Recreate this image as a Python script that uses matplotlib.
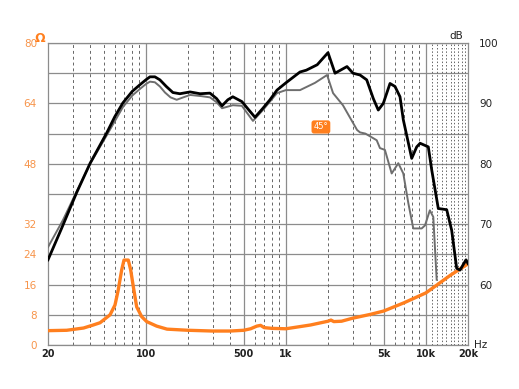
import matplotlib
matplotlib.use("Agg")
import matplotlib.pyplot as plt
import numpy as np

# On-axis SPL (dB)
spl_f = [20, 25, 32, 40, 52.5, 60, 68.6, 80, 90.8, 100, 107, 116, 126, 140, 156, 175, 207, 244, 287,
         320, 350, 385, 418, 485, 540, 602, 686, 770, 864, 1000, 1262, 1400, 1675, 2000, 2245, 2500,
         2733, 3017, 3386, 3780, 4214, 4572, 4966, 5546, 6020, 6536, 6900, 7924, 8604, 9100, 10410,
         11010, 12270, 14090, 15290, 16600, 17540, 19350, 20000]
spl_db = [64.1, 69.3, 75.2, 80.1, 85.1, 87.8, 90.1, 92.0, 93.1, 93.9, 94.4, 94.4, 93.9, 92.8, 91.8, 91.6,
          91.9, 91.6, 91.7, 90.8, 89.6, 90.6, 91.1, 90.3, 89.0, 87.7, 89.2, 90.6, 92.2, 93.4, 95.2, 95.5,
          96.4, 98.4, 95.0, 95.6, 96.1, 95.0, 94.7, 93.9, 90.8, 88.9, 90.0, 93.3, 92.8, 91.1, 87.3, 80.9,
          82.8, 83.4, 82.8, 79.0, 72.6, 72.4, 69.0, 62.7, 62.4, 64.1, 63.5]

# 45 degree SPL (dB)
off_f = [20, 25.6, 32, 40, 52.5, 68.6, 80, 90.8, 100, 107, 116, 126, 137, 150, 166, 185, 207, 250, 287,
         320, 350, 418, 485, 582, 686, 864, 1000, 1262, 1614, 1970, 2174, 2556, 3226, 3386, 3700, 4456,
         4700, 5100, 5700, 6356, 6900, 7494, 8130, 9340, 9860, 10680, 11300, 11950]
off_db = [66.2, 70.7, 75.4, 80.0, 84.7, 89.4, 91.3, 92.4, 93.2, 93.6, 93.5, 92.8, 91.8, 91.0, 90.6, 91.0,
          91.4, 91.2, 91.0, 90.2, 89.2, 89.7, 89.6, 87.1, 88.9, 91.7, 92.2, 92.2, 93.4, 94.7, 91.7, 89.7,
          85.6, 85.2, 85.0, 83.9, 82.6, 82.3, 78.4, 80.1, 78.4, 73.5, 69.3, 69.3, 69.8, 72.3, 71.2, 60.8]

# Impedance (ohm)
imp_f = [20, 27.2, 35.9, 42.1, 47.1, 55.5, 60.2, 63.5, 67.2, 69.8, 74.9, 77.9, 81.4, 86, 93.4, 101.4,
         119.5, 141.7, 200, 300, 400, 500, 560, 620, 660, 700, 800, 1000, 1500, 2000, 2100, 2200, 2500,
         3000, 4000, 5000, 7000, 10000, 12000, 15000, 20000]
imp_ohm = [3.8, 3.9, 4.5, 5.3, 5.9, 8.0, 10.6, 14.6, 19.9, 22.5, 22.5, 19.9, 15.4, 10.1, 7.5, 6.2,
           5.0, 4.2, 3.9, 3.7, 3.7, 3.9, 4.3, 5.0, 5.2, 4.6, 4.4, 4.3, 5.3, 6.3, 6.6, 6.2, 6.3,
           7.1, 8.1, 9.0, 11.2, 13.8, 15.9, 18.5, 21.5]

x_labels = ["20", "100", "500", "1k", "5k", "10k", "20k"]
x_label_pos = [20, 100, 500, 1000, 5000, 10000, 20000]
left_ticks = [0, 8, 16, 24, 32, 48, 64, 80]
right_ticks = [60, 70, 80, 90, 100]

ORANGE = "#ff7f1e"
ORANGE_TXT = "#f7944a"

fig = plt.figure(figsize=(5.19, 3.89), dpi=100)
W, H = 519, 389
ax = fig.add_axes([48 / W, (H - 345) / H, 420 / W, 302 / H])
ax.set_xscale("log")
ax.set_xlim(20, 20000)
ax.set_ylim(0, 80)

# grid: horizontal
for v in np.arange(0, 81, 8):
    ax.axhline(v, color="#8c8c8c", lw=0.9, zorder=1)
# grid: vertical
solid = [100, 500, 1000, 5000, 10000]
dashed = [30, 40, 50, 60, 70, 80, 90, 200, 300, 400, 600, 700, 800, 900,
          2000, 3000, 4000, 6000, 7000, 8000, 9000]
dotted = [11000, 12000, 13000, 14000, 15000, 16000, 17000, 18000, 19000]
for v in solid:
    ax.axvline(v, color="#8c8c8c", lw=0.9, zorder=1)
for v in dashed:
    ax.axvline(v, color="#666666", lw=0.7, ls=(0, (3, 3)), zorder=1)
for v in dotted:
    ax.axvline(v, color="#666666", lw=0.7, ls=(0, (1.5, 2)), zorder=1)

for s in ax.spines.values():
    s.set_color("#8c8c8c")
    s.set_linewidth(0.9)

ax.tick_params(length=0)
ax.set_xticks(x_label_pos)
ax.set_xticklabels(x_labels, fontsize=7, fontweight="bold", color="#222222")
ax.xaxis.set_minor_locator(matplotlib.ticker.NullLocator())
ax.tick_params(axis="x", pad=3)
ax.set_yticks(left_ticks)
ax.set_yticklabels([str(t) for t in left_ticks], fontsize=7.5, color=ORANGE_TXT)
ax.tick_params(axis="y", pad=8)

ax2 = ax.twinx()
ax2.set_ylim(50, 100)
ax2.set_yticks(right_ticks)
ax2.set_yticklabels([str(t) for t in right_ticks], fontsize=7.5, color="#222222")
ax2.tick_params(length=0, pad=8)
for s in ax2.spines.values():
    s.set_visible(False)

ax.plot(imp_f, imp_ohm, color=ORANGE, lw=2.4, zorder=4, solid_joinstyle="round", solid_capstyle="round")
ax2.plot(off_f, off_db, color="#6e6e6e", lw=1.4, zorder=3, solid_joinstyle="round")
ax2.plot(spl_f, spl_db, color="#000000", lw=2.0, zorder=4, solid_joinstyle="round")

ax2.text(1780, 86.1, "45°", fontsize=6, color="white", ha="center", va="center",
         bbox=dict(boxstyle="round,pad=0.25,rounding_size=0.3", fc=ORANGE, ec="none"), zorder=5)

fig.text(40 / W, 1 - 38 / H, "Ω", color=ORANGE, fontsize=9, fontweight="bold", ha="center", va="center")
fig.text(456 / W, 1 - 36 / H, "dB", color="#222222", fontsize=7.5, ha="center", va="center")
fig.text(481 / W, 1 - 345 / H, "Hz", color="#222222", fontsize=7.5, ha="center", va="center")

fig.savefig("out.png", dpi=100)
